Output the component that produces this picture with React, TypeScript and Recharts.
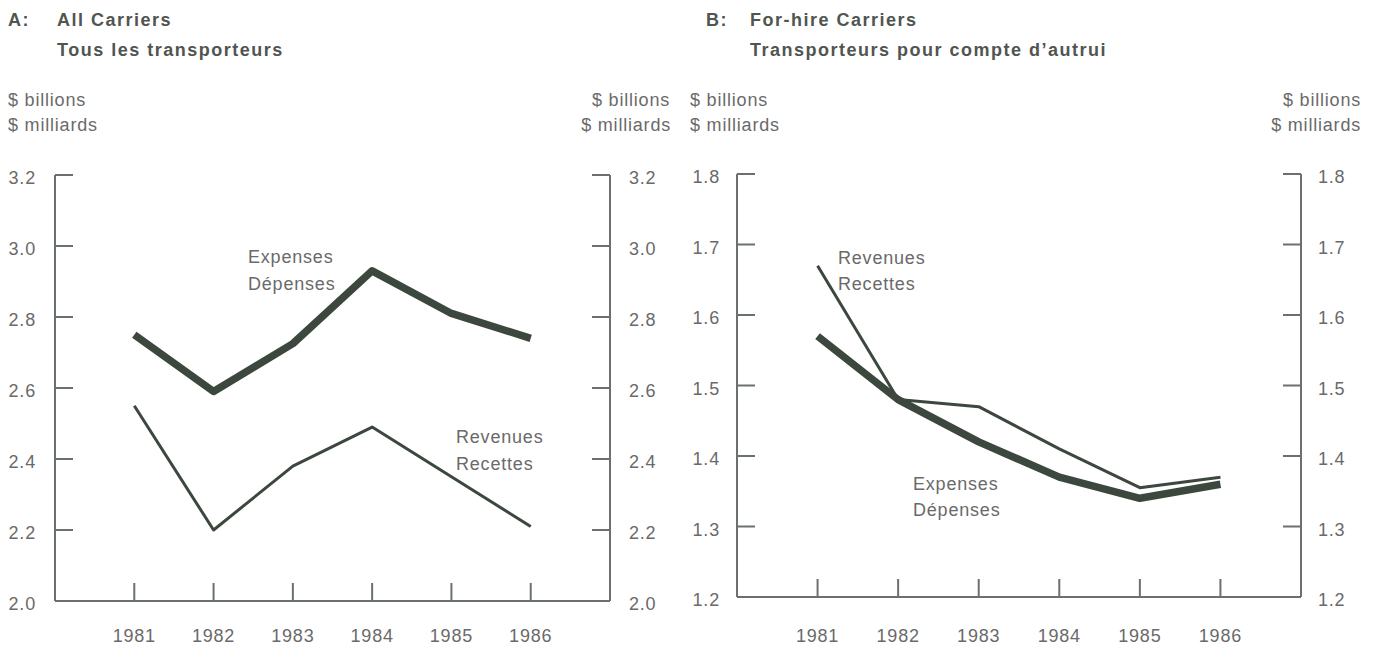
import React from "react";
import { LineChart, Line, XAxis, YAxis } from "recharts";

const years = [1981, 1982, 1983, 1984, 1985, 1986];
const aExpenses = [2.75, 2.59, 2.725, 2.93, 2.81, 2.74];
const aRevenues = [2.55, 2.2, 2.38, 2.49, 2.35, 2.21];
const bExpenses = [1.57, 1.48, 1.42, 1.37, 1.34, 1.36];
const bRevenues = [1.67, 1.48, 1.47, 1.41, 1.355, 1.37];
const aTicks = [2.0, 2.2, 2.4, 2.6, 2.8, 3.0, 3.2];
const bTicks = [1.2, 1.3, 1.4, 1.5, 1.6, 1.7, 1.8];

const FONT = "'Liberation Sans', Arial, Helvetica, sans-serif";
const AXIS = "#6a706a";
const LINE = "#3c473e";
const TXT = "#6a6a6a";
const TITLE = "#505550";

const aData = years.map((y, i) => ({ year: y, exp: aExpenses[i], rev: aRevenues[i] }));
const bData = years.map((y, i) => ({ year: y, exp: bExpenses[i], rev: bRevenues[i] }));

const makeBottomTick = (off: number) => (props: any) => {
  const { x, y, payload } = props;
  return (
    <g>
      <line x1={x} x2={x} y1={y} y2={y - 18} stroke={AXIS} strokeWidth={2} />
      <text x={x} y={y + off} textAnchor="middle" dominantBaseline="central" fill={TXT} fontSize={18} letterSpacing={0.8} fontFamily={FONT}>
        {payload.value}
      </text>
    </g>
  );
};

const makeLeftTick = (gap: number) => (props: any) => {
  const { x, y, payload } = props;
  return (
    <g>
      <line x1={x} x2={x + 18} y1={y} y2={y} stroke={AXIS} strokeWidth={2} />
      <text x={x - gap} y={y + 3} textAnchor="end" dominantBaseline="central" fill={TXT} fontSize={18} letterSpacing={0.8} fontFamily={FONT}>
        {Number(payload.value).toFixed(1)}
      </text>
    </g>
  );
};

const makeRightTick = (gap: number) => (props: any) => {
  const { x, y, payload } = props;
  return (
    <g>
      <line x1={x} x2={x - 18} y1={y} y2={y} stroke={AXIS} strokeWidth={2} />
      <text x={x + gap} y={y + 3} textAnchor="start" dominantBaseline="central" fill={TXT} fontSize={18} letterSpacing={0.8} fontFamily={FONT}>
        {Number(payload.value).toFixed(1)}
      </text>
    </g>
  );
};

const Txt = ({ x, y, children, bold, anchor, size, color }: any) => (
  <div
    style={{
      position: "absolute",
      left: anchor === "end" ? undefined : x,
      right: anchor === "end" ? 1376 - x : undefined,
      top: y - 12,
      height: 24,
      lineHeight: "24px",
      fontFamily: FONT,
      fontSize: size || 18,
      fontWeight: bold ? 700 : 400,
      letterSpacing: bold ? 1.5 : 0.8,
      color: color || TXT,
      whiteSpace: "nowrap",
    }}
  >
    {children}
  </div>
);

const Panel = ({ data, ticks, domain, margin, width, gap, off }: any) => (
  <LineChart width={width} height={648} data={data} margin={margin}>
    <XAxis
      dataKey="year"
      type="number"
      domain={[1980, 1987]}
      ticks={years}
      allowDataOverflow
      tickSize={0}
      tickMargin={0}
      tickLine={false}
      tick={makeBottomTick(off)}
      height={40}
      stroke={AXIS}
      strokeWidth={2}
      interval={0}
    />
    <YAxis
      yAxisId="l"
      domain={domain}
      ticks={ticks}
      allowDataOverflow
      width={45}
      tickSize={0}
      tickMargin={0}
      tickLine={false}
      tick={makeLeftTick(gap)}
      stroke={AXIS}
      strokeWidth={2}
      interval={0}
    />
    <YAxis
      yAxisId="r"
      orientation="right"
      domain={domain}
      ticks={ticks}
      allowDataOverflow
      width={45}
      tickSize={0}
      tickMargin={0}
      tickLine={false}
      tick={makeRightTick(gap)}
      stroke={AXIS}
      strokeWidth={2}
      interval={0}
    />
    <Line yAxisId="l" type="linear" dataKey="exp" stroke={LINE} strokeWidth={7.5} strokeLinejoin="round" dot={false} isAnimationActive={false} />
    <Line yAxisId="l" type="linear" dataKey="rev" stroke={LINE} strokeWidth={3} strokeLinejoin="round" dot={false} isAnimationActive={false} />
  </LineChart>
);

export default function App() {
  return (
    <div style={{ position: "absolute", left: 0, top: 0, width: 1376, height: 648, background: "#fff", overflow: "hidden" }}>
      <div style={{ position: "absolute", left: 0, top: 0 }}>
        <Panel data={aData} ticks={aTicks} domain={[2.0, 3.2]} width={690} margin={{ top: 175, right: 35, bottom: 7, left: 10 }} gap={19} off={35} />
      </div>
      <div style={{ position: "absolute", left: 690, top: 0 }}>
        <Panel data={bData} ticks={bTicks} domain={[1.2, 1.8]} width={686} margin={{ top: 174, right: 30, bottom: 11, left: 2 }} gap={17} off={39} />
      </div>

      <Txt x={8} y={20} bold color={TITLE} size={18}>A:</Txt>
      <Txt x={57} y={20} bold color={TITLE} size={18}>All Carriers</Txt>
      <Txt x={57} y={50} bold color={TITLE} size={18}>Tous les transporteurs</Txt>
      <Txt x={8} y={100}>$ billions</Txt>
      <Txt x={8} y={125}>$ milliards</Txt>
      <Txt x={670} y={100} anchor="end">$ billions</Txt>
      <Txt x={671} y={125} anchor="end">$ milliards</Txt>

      <Txt x={706} y={20} bold color={TITLE} size={18}>B:</Txt>
      <Txt x={750} y={20} bold color={TITLE} size={18}>For-hire Carriers</Txt>
      <Txt x={750} y={50} bold color={TITLE} size={18}>Transporteurs pour compte d’autrui</Txt>
      <Txt x={690} y={100}>$ billions</Txt>
      <Txt x={690} y={125}>$ milliards</Txt>
      <Txt x={1361} y={100} anchor="end">$ billions</Txt>
      <Txt x={1361} y={125} anchor="end">$ milliards</Txt>

      <Txt x={248} y={257}>Expenses</Txt>
      <Txt x={248} y={284}>Dépenses</Txt>
      <Txt x={456} y={437}>Revenues</Txt>
      <Txt x={456} y={464}>Recettes</Txt>

      <Txt x={838} y={258}>Revenues</Txt>
      <Txt x={838} y={284}>Recettes</Txt>
      <Txt x={913} y={484}>Expenses</Txt>
      <Txt x={913} y={510}>Dépenses</Txt>
    </div>
  );
}
